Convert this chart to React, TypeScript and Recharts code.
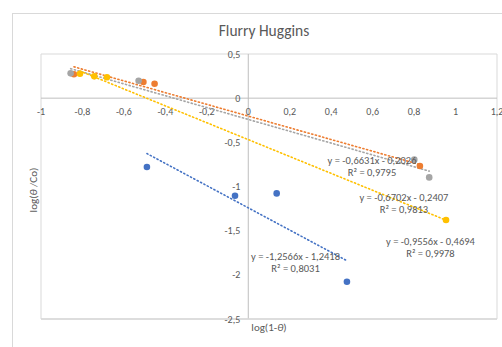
import React from 'react';
import { ScatterChart, Scatter, XAxis, YAxis, ZAxis, CartesianGrid, ReferenceLine } from 'recharts';

// measured points: log(1-θ) vs log(θ/Co)
const bluePts = [
    { x: -0.489, y: -0.78 },
    { x: -0.064, y: -1.104 },
    { x: 0.137, y: -1.078 },
    { x: 0.476, y: -2.078 },
];
const orangePts = [
    { x: -0.841, y: 0.27 },
    { x: -0.506, y: 0.183 },
    { x: -0.452, y: 0.164 },
    { x: 0.828, y: -0.768 },
];
const grayPts = [
    { x: -0.857, y: 0.281 },
    { x: -0.529, y: 0.198 },
    { x: 0.801, y: -0.696 },
    { x: 0.873, y: -0.897 },
];
const yellowPts = [
    { x: -0.812, y: 0.277 },
    { x: -0.743, y: 0.247 },
    { x: -0.682, y: 0.236 },
    { x: 0.954, y: -1.38 },
];

// trendline end points
const blueTrend = [{ x: -0.489, y: -0.627 }, { x: 0.476, y: -1.84 }];
const orangeTrend = [{ x: -0.841, y: 0.355 }, { x: 0.828, y: -0.752 }];
const grayTrend = [{ x: -0.857, y: 0.334 }, { x: 0.873, y: -0.826 }];
const yellowTrend = [{ x: -0.812, y: 0.307 }, { x: 0.954, y: -1.381 }];

// equation labels (anchored in data coordinates)
const eqLabels = [
    { x: 0.597, y: -0.704, eq: 'y = -0,6631x - 0,2026', r2: 'R² = 0,9795' },
    { x: 0.751, y: -1.119, eq: 'y = -0,6702x - 0,2407', r2: 'R² = 0,9813' },
    { x: 0.879, y: -1.617, eq: 'y = -0,9556x - 0,4694', r2: 'R² = 0,9978' },
    { x: 0.228, y: -1.792, eq: 'y = -1,2566x - 1,2418', r2: 'R² = 0,8031' },
];

const xTicks = [-1, -0.8, -0.6, -0.4, -0.2, 0, 0.2, 0.4, 0.6, 0.8, 1, 1.2];
const yTicks = [-2.5, -2, -1.5, -1, -0.5, 0, 0.5];

const fmt = (v: number) => String(v).replace('.', ',');
const xTickPts = xTicks.map((t) => ({ x: t, y: 0 }));
const yTickPts = yTicks.map((t) => ({ x: 0, y: t }));

const FONT = 'Carlito, "Liberation Sans", Arial, sans-serif';
const TXT = '#595959';

const dot = (color: string) => (p: any) => <circle cx={p.cx} cy={p.cy} r={3.3} fill={color} />;

const xTickShape = (p: any) => (
    <text x={p.cx} y={p.cy + 13} textAnchor="middle" dominantBaseline="central" fontSize={10} fill={TXT} fontFamily={FONT}>
        {fmt(p.payload.x)}
    </text>
);
const yTickShape = (p: any) => (
    <text x={p.cx - 8} y={p.cy} textAnchor="end" dominantBaseline="central" fontSize={10} fill={TXT} fontFamily={FONT}>
        {fmt(p.payload.y)}
    </text>
);
const eqShape = (p: any) => (
    <g>
        <text x={p.cx} y={p.cy} textAnchor="middle" dominantBaseline="central" fontSize={10.5} fill={TXT} fontFamily={FONT}>
            {p.payload.eq}
        </text>
        <text x={p.cx} y={p.cy + 12} textAnchor="middle" dominantBaseline="central" fontSize={10.5} fill={TXT} fontFamily={FONT}>
            {p.payload.r2}
        </text>
    </g>
);

const trend = (color: string) => ({
    line: { stroke: color, strokeDasharray: '1.2 2.6', strokeWidth: 1.6, strokeLinecap: 'round' as const },
    fill: color,
    shape: () => <g />,
    isAnimationActive: false,
});

export default function App() {
    return (
        <div style={{ position: 'fixed', left: 0, top: 0, width: 502, height: 347, background: '#fff', overflow: 'hidden' }}>
            <div style={{ position: 'absolute', left: 12, top: 13, width: 520, height: 360, border: '1px solid #d9d9d9' }} />
            <div style={{ position: 'absolute', left: 0, width: 528, top: 21, textAlign: 'center', fontFamily: FONT, fontSize: 15.5, color: TXT }}>
                Flurry Huggins
            </div>
            <div style={{ position: 'absolute', left: 200, width: 138, top: 321, textAlign: 'center', fontFamily: FONT, fontSize: 11, color: TXT }}>
                log(1-<i>θ</i>)
            </div>
            <div style={{ position: 'absolute', left: 33, top: 190, width: 0, height: 0 }}>
                <div style={{ position: 'absolute', transform: 'translate(-50%, -50%) rotate(-90deg)', whiteSpace: 'nowrap', fontFamily: FONT, fontSize: 11, color: TXT }}>
                    log(<i>θ</i> /Co)
                </div>
            </div>
            <ScatterChart width={502} height={347} margin={{ top: 54, right: 5, bottom: 28, left: 41 }} style={{ position: 'absolute', left: 0, top: 0 }}>
                <CartesianGrid stroke="#d9d9d9" strokeWidth={1} />
                <XAxis type="number" dataKey="x" domain={[-1, 1.2]} ticks={xTicks} tick={false} tickLine={false} axisLine={false} height={0} />
                <YAxis type="number" dataKey="y" domain={[-2.5, 0.5]} ticks={yTicks} tick={false} tickLine={false} axisLine={false} width={0} />
                <ZAxis range={[20, 20]} />
                <ReferenceLine y={0} stroke="#bfbfbf" />
                <ReferenceLine x={0} stroke="#bfbfbf" />
                <ReferenceLine y={-2.5} stroke="#d9d9d9" strokeWidth={1.5} />
                <Scatter data={xTickPts} shape={xTickShape} isAnimationActive={false} />
                <Scatter data={yTickPts} shape={yTickShape} isAnimationActive={false} />
                <Scatter data={orangeTrend} {...trend('#ED7D31')} />
                <Scatter data={grayTrend} {...trend('#A5A5A5')} />
                <Scatter data={yellowTrend} {...trend('#FFC000')} />
                <Scatter data={blueTrend} {...trend('#4472C4')} />
                <Scatter data={bluePts} shape={dot('#4472C4')} isAnimationActive={false} />
                <Scatter data={orangePts} shape={dot('#ED7D31')} isAnimationActive={false} />
                <Scatter data={grayPts} shape={dot('#A5A5A5')} isAnimationActive={false} />
                <Scatter data={yellowPts} shape={dot('#FFC000')} isAnimationActive={false} />
                <Scatter data={eqLabels} shape={eqShape} isAnimationActive={false} />
            </ScatterChart>
        </div>
    );
}
